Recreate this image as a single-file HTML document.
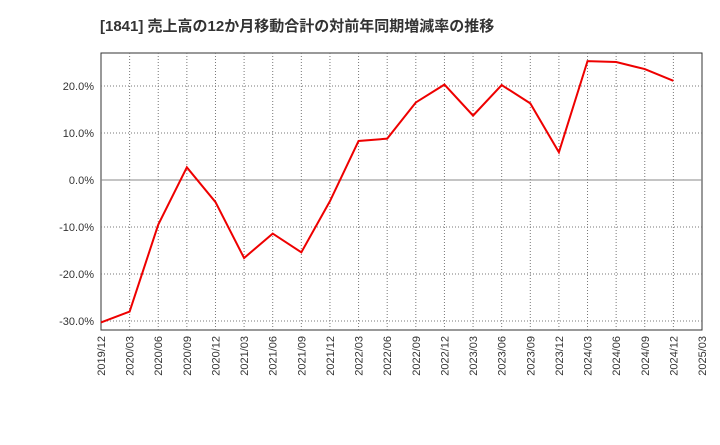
<!DOCTYPE html>
<html><head><meta charset="utf-8"><style>
body{margin:0;background:#fff;font-family:"Liberation Sans","Noto Sans CJK JP",sans-serif;}
</style></head><body>
<svg width="720" height="440" xmlns="http://www.w3.org/2000/svg">
<text x="100" y="31" font-size="15" font-weight="bold" fill="#333" font-family="Liberation Sans, Noto Sans CJK JP, sans-serif">[1841]  売上高の12か月移動合計の対前年同期増減率の推移</text>
<rect x="101" y="53" width="601" height="277" fill="#fff" stroke="#333" stroke-width="1"/>
<g id="grid"></g><g id="yt"></g><g id="xt"></g>
<polyline id="line" fill="none" stroke="#ee0000" stroke-width="2"/>
<script>
const xLabels=["2019/12","2020/03","2020/06","2020/09","2020/12","2021/03","2021/06","2021/09","2021/12","2022/03","2022/06","2022/09","2022/12","2023/03","2023/06","2023/09","2023/12","2024/03","2024/06","2024/09","2024/12","2025/03"];
const yTicks=[-30,-20,-10,0,10,20];
const values=[-30.3,-28,-9.5,2.7,-4.7,-16.6,-11.4,-15.4,-4.5,8.3,8.8,16.5,20.3,13.7,20.2,16.3,5.9,25.3,25.1,23.6,21.1];
const ns="http://www.w3.org/2000/svg";
const X=i=>101+i*(601/21);
const Y=v=>180-v*4.7;
const g=document.getElementById('grid'),yt=document.getElementById('yt'),xt=document.getElementById('xt');
function mk(t,a,p){const e=document.createElementNS(ns,t);for(const k in a)e.setAttribute(k,a[k]);p.appendChild(e);return e;}
xLabels.forEach((l,i)=>{
 const x=X(i);
 if(i>0&&i<21){const ln=mk('line',{x1:x,x2:x,y1:53,y2:330,stroke:'#777','stroke-dasharray':'1,2'},g);
 
 }
 const t=mk('text',{x:0,y:0,'font-size':11,fill:'#333','text-anchor':'end',transform:`translate(${x+4},336) rotate(-90)`},xt);
 t.textContent=l;
 
 
});
yTicks.forEach(v=>{
 const y=Y(v);
 const ln=mk('line',{x1:101,x2:702,y1:y,y2:y,stroke:v===0?'#888':'#777','stroke-dasharray':v===0?'none':'1,2'},g);
 
 
 const t=mk('text',{x:94,y:y+4,'font-size':11,fill:'#333','text-anchor':'end'},yt);
 t.textContent=v.toFixed(1)+'%';
 
 
});
document.getElementById('line').setAttribute('points',values.map((v,i)=>X(i)+','+Y(v)).join(' '));
</script>
</svg>
</body></html>
